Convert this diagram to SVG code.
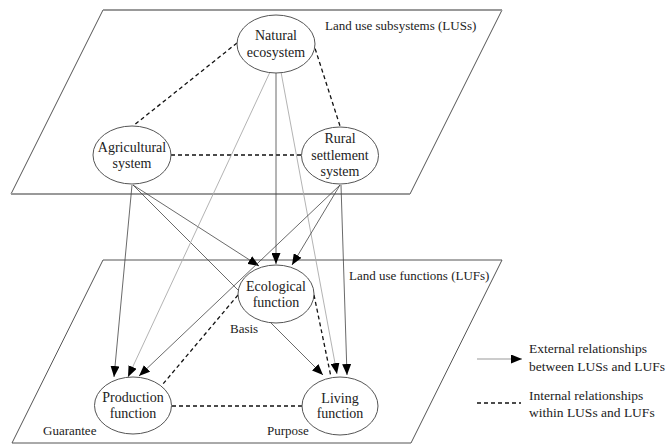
<svg xmlns="http://www.w3.org/2000/svg" width="669" height="445" viewBox="0 0 669 445">
<style>
.plane{fill:none;stroke:#555;stroke-width:1}
.edge{stroke:#999;stroke-width:2;fill:none}
.node{fill:#fff;stroke:#555;stroke-width:1}
.t{font-family:"Liberation Serif","Times New Roman",serif;font-size:14px;fill:#222;text-anchor:middle}
.lbl{font-family:"Liberation Serif","Times New Roman",serif;font-size:13px;fill:#222}
.leg{font-family:"Liberation Serif","Times New Roman",serif;font-size:13.5px;fill:#222}
.ext{stroke:#444;stroke-width:0.8;fill:none;marker-end:url(#ah)}
.extl{stroke:#aaa;stroke-width:0.9;fill:none;marker-end:url(#ah)}
.int{stroke:#111;stroke-width:1.3;fill:none;stroke-dasharray:4 3}
</style>
<defs>
<marker id="ah" markerUnits="userSpaceOnUse" markerWidth="11" markerHeight="9" refX="11" refY="4.5" orient="auto">
<path d="M0,0 L11,4.5 L0,9 Z" fill="#000"/>
</marker>
</defs>
<g id="planes">
<polygon class="plane" points="103,10 502,10 410,194 11,194"/>
<line class="edge" x1="103" y1="10" x2="502" y2="10"/>
<line class="edge" x1="11" y1="194" x2="410" y2="194"/>
<polygon class="plane" points="103,260 502,260 411,443 12,443"/>
</g>
<g id="connectors">
<line class="int" x1="237" y1="43" x2="133" y2="126"/>
<line class="int" x1="313" y1="42" x2="340" y2="126"/>
<line class="int" x1="171" y1="155" x2="302" y2="155"/>
<line class="int" x1="238" y1="295" x2="163" y2="384"/>
<line class="int" x1="314" y1="295" x2="331" y2="377"/>
<line class="int" x1="172" y1="406" x2="302" y2="406"/>
<line class="ext" x1="132" y1="185" x2="114" y2="377"/>
<line class="ext" x1="133" y1="185" x2="259" y2="266"/>
<line class="ext" x1="133" y1="185" x2="323" y2="375"/>
<line class="extl" x1="270" y1="72" x2="128" y2="377"/>
<line class="ext" x1="276" y1="73" x2="276" y2="264"/>
<line class="extl" x1="281" y1="72" x2="337" y2="374"/>
<line class="ext" x1="340" y1="185" x2="292" y2="265"/>
<line class="ext" x1="340" y1="185" x2="139" y2="376"/>
<line class="ext" x1="341" y1="185" x2="347" y2="375"/>
</g>
<g id="natural">
<ellipse class="node" cx="276" cy="44" rx="39" ry="29"/>
<text class="t" x="276" y="40">Natural</text>
<text class="t" x="276" y="57">ecosystem</text>
</g>
<g id="agricultural">
<ellipse class="node" cx="132" cy="155" rx="39" ry="29"/>
<text class="t" x="132" y="152">Agricultural</text>
<text class="t" x="132" y="168">system</text>
</g>
<g id="rural">
<ellipse class="node" cx="340" cy="155.5" rx="38.5" ry="28.5"/>
<text class="t" x="340" y="143">Rural</text>
<text class="t" x="340" y="160">settlement</text>
<text class="t" x="340" y="176">system</text>
</g>
<g id="ecological">
<ellipse class="node" cx="276" cy="294" rx="38" ry="29"/>
<text class="t" x="276" y="291">Ecological</text>
<text class="t" x="276" y="307">function</text>
</g>
<g id="production">
<ellipse class="node" cx="133" cy="405.5" rx="38.5" ry="28.5"/>
<text class="t" x="133" y="402">Production</text>
<text class="t" x="133" y="418">function</text>
</g>
<g id="living">
<ellipse class="node" cx="340" cy="406" rx="38" ry="29"/>
<text class="t" x="340" y="403">Living</text>
<text class="t" x="340" y="418">function</text>
</g>
<g id="labels">
<text class="lbl" x="325" y="30">Land use subsystems (LUSs)</text>
<text class="lbl" x="349" y="280">Land use functions (LUFs)</text>
<text class="lbl" x="230" y="333">Basis</text>
<text class="lbl" x="43" y="435">Guarantee</text>
<text class="lbl" x="267" y="435">Purpose</text>
</g>
<g id="legend">
<line x1="477" y1="359" x2="522" y2="359" stroke="#999" stroke-width="1" marker-end="url(#ah)"/>
<text class="leg" x="529" y="353">External relationships</text>
<text class="leg" x="529" y="371">between LUSs and LUFs</text>
<line class="int" x1="477" y1="403" x2="521" y2="403"/>
<text class="leg" x="529" y="400">Internal relationships</text>
<text class="leg" x="529" y="417">within LUSs and LUFs</text>
</g>
</svg>
